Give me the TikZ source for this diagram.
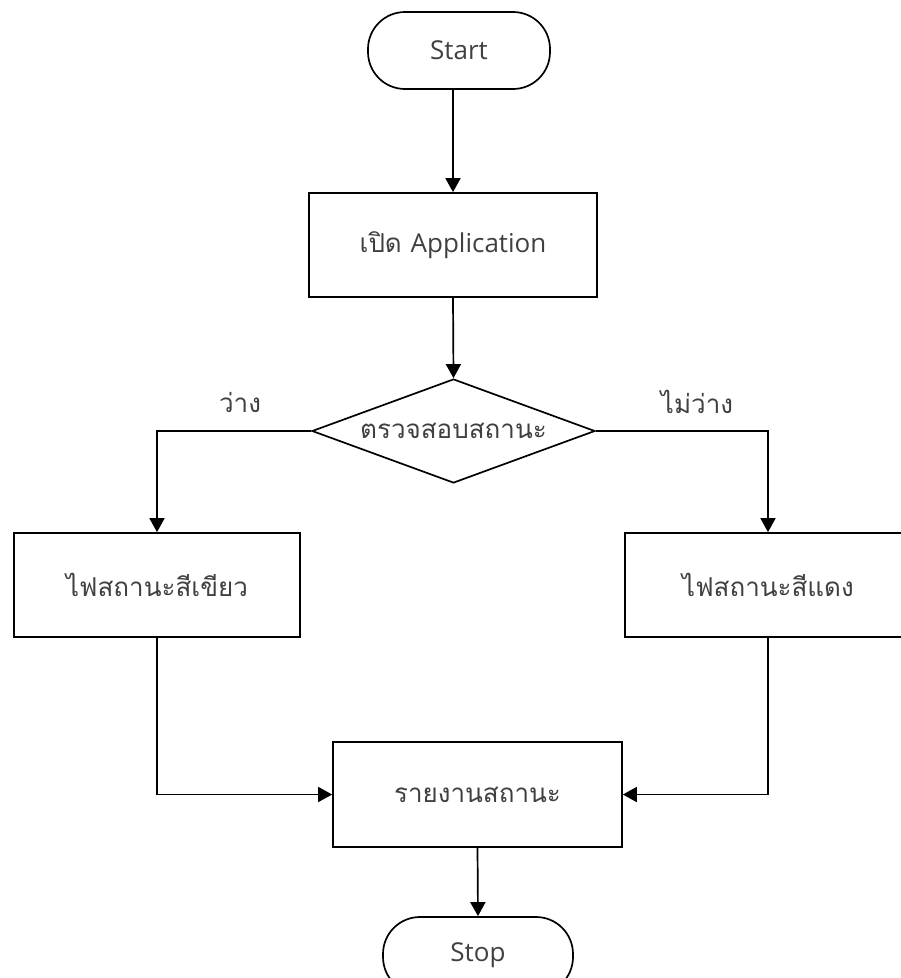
\documentclass[tikz,border=0pt]{standalone}
\usepackage{fontspec}
\setmainfont[Script=Thai]{Loma}
\newfontfamily\latinfont{Open Sans}
\usepackage{tikz}
\usetikzlibrary{positioning,arrows.meta,shapes.geometric,calc}
\definecolor{txt}{HTML}{404040}

\begin{document}
\begin{tikzpicture}[x=1pt, y=-1pt,
      every node/.style={font=\fontsize{26}{30}\selectfont, text=txt},
      term/.style={rectangle, rounded corners=37pt, draw, line width=1.7pt,
      minimum width=182pt, minimum height=77pt},
      proc/.style={rectangle, draw, line width=1.7pt,
      minimum width=288pt, minimum height=104pt},
      decision/.style={diamond, draw, line width=1.7pt, inner sep=0pt,
      minimum width=283pt, minimum height=104pt},
      flow/.style={-{Triangle[length=14pt, width=15pt]}, line width=1.7pt},
    ]
    \useasboundingbox (0,0) rectangle (901,978);

    \node[term] (start) at (459, 50.5) {\latinfont Start};
    \node[proc] (app) at (453, 245) {เปิด {\latinfont Application}};
    \node[decision, label=center:{ตรวจสอบสถานะ}] (check) at (453.5, 431) {};
    \node[proc, minimum width=286pt] (green) at (157, 585) {ไฟสถานะสีเขียว};
    \node[proc, minimum width=286pt] (red) at (768, 585) {ไฟสถานะสีแดง};
    \node[proc, minimum width=289pt, minimum height=105pt] (report) at (477.5, 794.5) {รายงานสถานะ};
    \node[term, minimum width=190pt] (stop) at (478, 955.5) {\latinfont Stop};

    \draw[flow] (start.south -| app.north) -- (app.north);
    \draw[flow] (app.south) -- (check.north);
    \draw[flow] (check.west) -| (green.north);
    \draw[flow] (check.east) -| (red.north);
    \draw[flow] (green.south) |- (report.west);
    \draw[flow] (red.south) |- (report.east);
    \draw[flow] (report.south) -- (stop.north);

    % branch labels
    \node (free) at (240, 402) {ว่าง};
    \node (busy) at (697, 402) {ไม่ว่าง};
  \end{tikzpicture}
\end{document}
